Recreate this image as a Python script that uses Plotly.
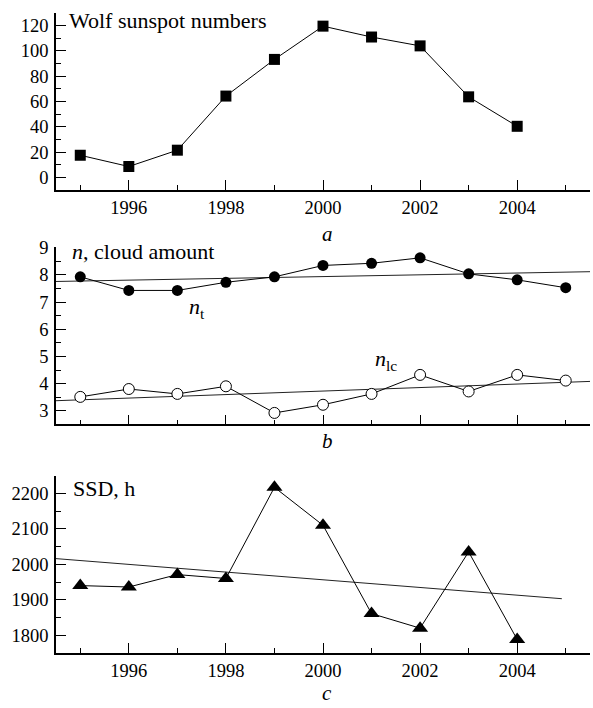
import plotly.graph_objects as go

# ---- data ----
years = [1995, 1996, 1997, 1998, 1999, 2000, 2001, 2002, 2003, 2004]
wolf = [17.5, 8.6, 21.5, 64.3, 93.3, 119.6, 111.0, 104.0, 63.7, 40.4]

years_b = [1995, 1996, 1997, 1998, 1999, 2000, 2001, 2002, 2003, 2004, 2005]
n_t = [7.93, 7.43, 7.43, 7.73, 7.93, 8.35, 8.43, 8.63, 8.04, 7.82, 7.53]
n_lc = [3.51, 3.80, 3.62, 3.90, 2.92, 3.22, 3.62, 4.32, 3.71, 4.32, 4.11]
trend_b_x = [1994.5, 2005.5]
trend_nt = [7.76, 8.12]
trend_nlc = [3.37, 4.08]

ssd = [1940, 1936, 1971, 1960, 2217, 2110, 1861, 1820, 2035, 1788]
trend_c_x = [1994.5, 2004.92]
trend_ssd = [2016, 1903]

year_ticks = [1996, 1998, 2000, 2002, 2004]

FONT = "Liberation Serif, Times New Roman, serif"
TICKFONT = dict(family=FONT, size=18.5, color="black")
ANNFONT = dict(family=FONT, size=22, color="black")
LETTERFONT = dict(family=FONT, size=21, color="black")

fig = go.Figure()

# panel a
fig.add_trace(go.Scatter(x=years, y=wolf, mode="lines+markers", xaxis="x", yaxis="y",
                         line=dict(color="black", width=1),
                         marker=dict(symbol="square", size=11, color="black")))
# panel b
fig.add_trace(go.Scatter(x=trend_b_x, y=trend_nt, mode="lines", xaxis="x2", yaxis="y2",
                         line=dict(color="#222", width=1)))
fig.add_trace(go.Scatter(x=trend_b_x, y=trend_nlc, mode="lines", xaxis="x2", yaxis="y2",
                         line=dict(color="#222", width=1)))
fig.add_trace(go.Scatter(x=years_b, y=n_t, mode="lines+markers", xaxis="x2", yaxis="y2",
                         line=dict(color="black", width=1),
                         marker=dict(symbol="circle", size=11, color="black")))
fig.add_trace(go.Scatter(x=years_b, y=n_lc, mode="lines+markers", xaxis="x2", yaxis="y2",
                         line=dict(color="black", width=1),
                         marker=dict(symbol="circle", size=11, color="white",
                                     line=dict(color="black", width=1))))
# panel c
fig.add_trace(go.Scatter(x=trend_c_x, y=trend_ssd, mode="lines", xaxis="x3", yaxis="y3",
                         line=dict(color="#222", width=1)))
fig.add_trace(go.Scatter(x=years, y=ssd, mode="lines+markers", xaxis="x3", yaxis="y3",
                         line=dict(color="black", width=1),
                         marker=dict(symbol="triangle-up", size=14, color="black")))


def xax(show_labels, anchor):
    return dict(range=[1994.5, 2005.5], anchor=anchor, showline=True, linecolor="black",
                linewidth=1.5, showgrid=False, zeroline=False, ticks="inside", ticklen=10,
                tickwidth=1, tickcolor="black", tickmode="array", tickvals=year_ticks,
                showticklabels=show_labels, tickfont=TICKFONT, ticklabelstandoff=0,
                minor=dict(ticks="inside", ticklen=5, tickwidth=1, tickcolor="black",
                           dtick=1, tick0=1995))


def yax(rng, dtick, tick0, mdtick, domain, anchor):
    return dict(range=rng, domain=domain, anchor=anchor, showline=True, linecolor="black",
                linewidth=1.5, showgrid=False, zeroline=False, ticks="inside", ticklen=10,
                tickwidth=1, tickcolor="black", dtick=dtick, tick0=tick0,
                tickfont=TICKFONT, ticklabelstandoff=2,
                minor=dict(ticks="inside", ticklen=5, tickwidth=1, tickcolor="black",
                           dtick=mdtick, tick0=tick0))


fig.update_layout(
    width=593, height=708, margin=dict(l=56, r=3, t=13, b=55),
    paper_bgcolor="white", plot_bgcolor="white", showlegend=False,
    font=dict(family=FONT),
    xaxis=xax(True, "y"),
    yaxis=yax([-10, 130], 20, 0, 10, [0.7234, 1.0], "x"),
    xaxis2=xax(False, "y2"),
    yaxis2=yax([2.5, 9.03], 1, 3, 0.5, [0.3573, 0.6344], "x2"),
    xaxis3=xax(True, "y3"),
    yaxis3=yax([1750, 2250], 100, 1800, 50, [0.0, 0.2772], "x3"),
)

anns = [
    ("Wolf sunspot numbers", 0.0206, 0.9875, "left", ANNFONT),
    ("<i>n</i>, cloud amount", 0.026, 0.6266, "left", ANNFONT),
    ("SSD, h", 0.029, 0.2578, "left", ANNFONT),
    ("<i>n</i><sub>t</sub>", 0.245, 0.539, "left", ANNFONT),
    ("<i>n</i><sub>lc</sub>", 0.594, 0.458, "left", ANNFONT),
    ("<i>a</i>", 0.5075, 0.655, "center", LETTERFONT),
    ("<i>b</i>", 0.5075, 0.331, "center", LETTERFONT),
    ("<i>c</i>", 0.5075, -0.062, "center", LETTERFONT),
]
for text, x, y, xa, f in anns:
    fig.add_annotation(text=text, x=x, y=y, xref="paper", yref="paper", xanchor=xa,
                       yanchor="middle", showarrow=False, font=f)

fig.write_html("out.html")
